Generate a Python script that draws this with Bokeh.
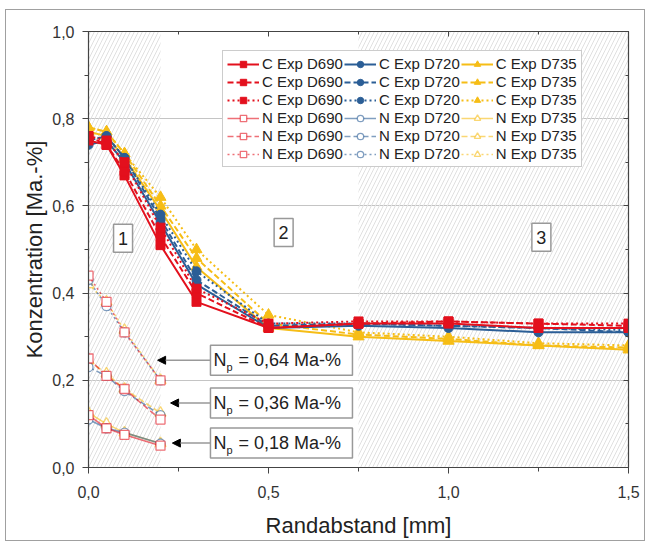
from bokeh.plotting import figure
from bokeh.layouts import column
from bokeh.models import (FixedTicker, CustomJSTickFormatter, LinearAxis, Legend,
                          LegendItem, Arrow, NormalHead, ColumnDataSource, Range1d)
from bokeh.core.properties import value
from bokeh.embed import file_html
from bokeh.resources import INLINE

FONT = "Liberation Sans"

# ---------------- data ----------------
x_c = [0.0, 0.05, 0.1, 0.2, 0.3, 0.5, 0.75, 1.0, 1.25, 1.5]
x_n = [0.0, 0.05, 0.1, 0.2]

c_d690_solid = [0.75, 0.74, 0.67, 0.51, 0.38, 0.32, 0.33, 0.33, 0.32, 0.32]
c_d690_dash = [0.76, 0.74, 0.68, 0.53, 0.40, 0.32, 0.33, 0.335, 0.33, 0.325]
c_d690_dot = [0.76, 0.75, 0.70, 0.55, 0.41, 0.33, 0.335, 0.335, 0.33, 0.33]
c_d720_solid = [0.74, 0.75, 0.70, 0.56, 0.42, 0.32, 0.325, 0.32, 0.31, 0.31]
c_d720_dash = [0.75, 0.76, 0.71, 0.57, 0.43, 0.325, 0.33, 0.325, 0.32, 0.31]
c_d720_dot = [0.75, 0.76, 0.71, 0.58, 0.45, 0.33, 0.33, 0.325, 0.32, 0.315]
c_d735_solid = [0.77, 0.76, 0.71, 0.59, 0.46, 0.32, 0.30, 0.29, 0.28, 0.27]
c_d735_dash = [0.78, 0.77, 0.72, 0.60, 0.48, 0.33, 0.305, 0.295, 0.28, 0.275]
c_d735_dot = [0.78, 0.77, 0.72, 0.62, 0.50, 0.35, 0.31, 0.30, 0.285, 0.28]

n_d690_solid = [0.12, 0.09, 0.075, 0.05]
n_d690_dash = [0.25, 0.21, 0.18, 0.11]
n_d690_dot = [0.44, 0.38, 0.31, 0.20]
n_d720_solid = [0.11, 0.09, 0.08, 0.055]
n_d720_dash = [0.23, 0.21, 0.175, 0.12]
n_d720_dot = [0.43, 0.37, 0.31, 0.20]
n_d735_solid = [0.125, 0.10, 0.08, 0.055]
n_d735_dash = [0.245, 0.215, 0.18, 0.125]
n_d735_dot = [0.42, 0.38, 0.315, 0.20]

x_ticks = [0.0, 0.5, 1.0, 1.5]
x_minor = [0.25, 0.75, 1.25]
y_ticks = [0.0, 0.2, 0.4, 0.6, 0.8, 1.0]
y_minor = [0.1, 0.3, 0.5, 0.7, 0.9]

region_left = [0.0, 0.75]
region_right = [0.2, 1.5]
region_names = ["1", "2", "3"]
region_x = [0.096, 0.542, 1.258]
region_y = [0.526, 0.539, 0.528]

np_values = ["0,64", "0,36", "0,18"]
np_box_x = [0.536, 0.536, 0.536]
np_box_y = [0.246, 0.148, 0.056]
np_arrow_start = [0.339, 0.339, 0.339]
np_arrow_end = [0.192, 0.228, 0.233]

# ---------------- figure ----------------
p = figure(frame_width=540, frame_height=436, min_border_left=82, min_border_right=16,
           min_border_top=21, min_border_bottom=70,
           x_range=Range1d(0, 1.5), y_range=Range1d(0, 1.0),
           output_backend="svg", toolbar_location=None)
p.background_fill_color = "white"
p.border_fill_color = "white"
p.outline_line_color = "#444444"

xt = FixedTicker(ticks=x_ticks, minor_ticks=x_minor)
yt = FixedTicker(ticks=y_ticks, minor_ticks=y_minor)
fmt = CustomJSTickFormatter(code="return tick.toFixed(1).replace('.', ',');")
empty = CustomJSTickFormatter(code="return '';")

p.xaxis.ticker = xt
p.yaxis.ticker = yt
p.xaxis.formatter = fmt
p.yaxis.formatter = fmt
for ax in (p.xaxis[0], p.yaxis[0]):
    ax.axis_line_color = "#444444"
    ax.axis_line_width = 1.2
    ax.major_tick_line_color = "#444444"
    ax.minor_tick_line_color = "#444444"
    ax.major_tick_in = 0
    ax.major_tick_out = 6
    ax.minor_tick_in = 0
    ax.minor_tick_out = 4
    ax.major_label_text_font = FONT
    ax.major_label_text_font_size = "16px"
    ax.major_label_text_color = "#333333"
    ax.axis_label_text_font = FONT
    ax.axis_label_text_font_size = "22px"
    ax.axis_label_text_font_style = "normal"
    ax.axis_label_text_color = "#222222"
p.xaxis.axis_label = "Randabstand [mm]"
p.yaxis.axis_label = "Konzentration [Ma.-%]"
p.xaxis.major_label_standoff = 12
p.xaxis.axis_label_standoff = 12
p.yaxis.major_label_standoff = 8
p.yaxis.axis_label_standoff = 2

for loc, tk in (("above", xt), ("right", yt)):
    a = LinearAxis(ticker=tk, formatter=empty, major_tick_in=5, major_tick_out=0,
                   minor_tick_in=3, minor_tick_out=0, major_label_standoff=0,
                   axis_line_color="#444444", axis_line_width=1.2,
                   major_tick_line_color="#444444", minor_tick_line_color="#444444",
                   major_label_text_font_size="1px")
    p.add_layout(a, loc)

p.xgrid.grid_line_color = None
p.ygrid.ticker = yt
p.ygrid.grid_line_color = "#c4c4c4"
p.ygrid.grid_line_width = 1

# hatched regions
p.quad(left=region_left, right=region_right, bottom=0, top=1,
       fill_color=None, line_color=None, hatch_pattern="/",
       hatch_color="#e0e0e0", hatch_weight=1, hatch_scale=8)

# ---------------- series ----------------
RED = "#e3101d"
BLUE = "#2b5e96"
YEL = "#f6bd16"

dash_map = {"solid": "solid", "dash": "6 3", "dot": "2 3"}

series = {
    "D690": (RED, "square", 9,
             [c_d690_solid, c_d690_dash, c_d690_dot],
             [n_d690_solid, n_d690_dash, n_d690_dot]),
    "D720": (BLUE, "circle", 9,
             [c_d720_solid, c_d720_dash, c_d720_dot],
             [n_d720_solid, n_d720_dash, n_d720_dot]),
    "D735": (YEL, "triangle", 11,
             [c_d735_solid, c_d735_dash, c_d735_dot],
             [n_d735_solid, n_d735_dash, n_d735_dot]),
}
styles = ["solid", "dash", "dot"]

items = {}
draw_order = ["D735", "D720", "D690"]
for name in draw_order:
    col, mk, sz, cs, ns = series[name]
    for st, ys in zip(styles, ns):
        rl = p.line(x_n, ys, line_color=col, line_width=1.6, line_alpha=0.6,
                    line_dash=dash_map[st])
        rs = p.scatter(x_n, ys, marker=mk, size=sz, fill_color="white",
                       line_color=col, line_alpha=0.6, line_width=1.3)
        items[("N", name, st)] = [rl, rs]
for name in draw_order:
    col, mk, sz, cs, ns = series[name]
    for st, ys in zip(styles, cs):
        rl = p.line(x_c, ys, line_color=col, line_width=2,
                    line_dash=dash_map[st])
        rs = p.scatter(x_c, ys, marker=mk, size=sz, fill_color=col,
                       line_color=col)
        items[("C", name, st)] = [rl, rs]

legend_items = []
for name in ["D690", "D720", "D735"]:
    for kind in ["C", "N"]:
        for st in styles:
            legend_items.append(LegendItem(label=f"{kind} Exp {name}",
                                           renderers=items[(kind, name, st)]))

legend = Legend(items=legend_items, location=(134, 300), orientation="vertical",
                nrows=6, label_text_font=FONT, label_text_font_size="15px",
                label_text_color="#222222", glyph_width=32, glyph_height=16,
                label_height=17, spacing=1, padding=4, margin=0,
                label_standoff=3, border_line_color="#999999",
                background_fill_color="white", background_fill_alpha=1)
p.add_layout(legend, "center")

# ---------------- annotations ----------------
p.rect(x=region_x, y=region_y, width=19, height=28, width_units="screen",
       height_units="screen", fill_color="white", line_color="#999999", line_width=1.5)
p.text(x=region_x, y=region_y, text=region_names, text_align="center",
       text_baseline="middle", text_font=value(FONT), text_font_size="18px",
       text_color="#222222")

asrc = ColumnDataSource(dict(x0=np_arrow_start, x1=np_arrow_end, y=np_box_y))
p.add_layout(Arrow(end=NormalHead(size=8, fill_color="black", line_color="black"),
                   x_start="x0", y_start="y", x_end="x1", y_end="y", source=asrc,
                   line_color="#999999", line_width=1.5))
p.rect(x=np_box_x, y=np_box_y, width=142, height=30, width_units="screen",
       height_units="screen", fill_color="white", line_color="#999999", line_width=1.5)
p.text(x=np_box_x, y=np_box_y, text=["N"] * 3, x_offset=-68, text_align="left",
       text_baseline="middle", text_font=value(FONT), text_font_size="18px",
       text_color="#222222")
p.text(x=np_box_x, y=np_box_y, text=["p"] * 3, x_offset=-55, y_offset=7,
       text_align="left", text_baseline="middle", text_font=value(FONT),
       text_font_size="11px", text_color="#222222")
p.text(x=np_box_x, y=np_box_y, text=[f"= {v} Ma-%" for v in np_values],
       x_offset=-43, text_align="left", text_baseline="middle",
       text_font=value(FONT), text_font_size="18px", text_color="#222222")

layout = column(p, styles={"border": "1px solid #a0a0a0", "margin-left": "5px",
                           "margin-top": "9px"})

open("out.html", "w").write(file_html(layout, INLINE))
